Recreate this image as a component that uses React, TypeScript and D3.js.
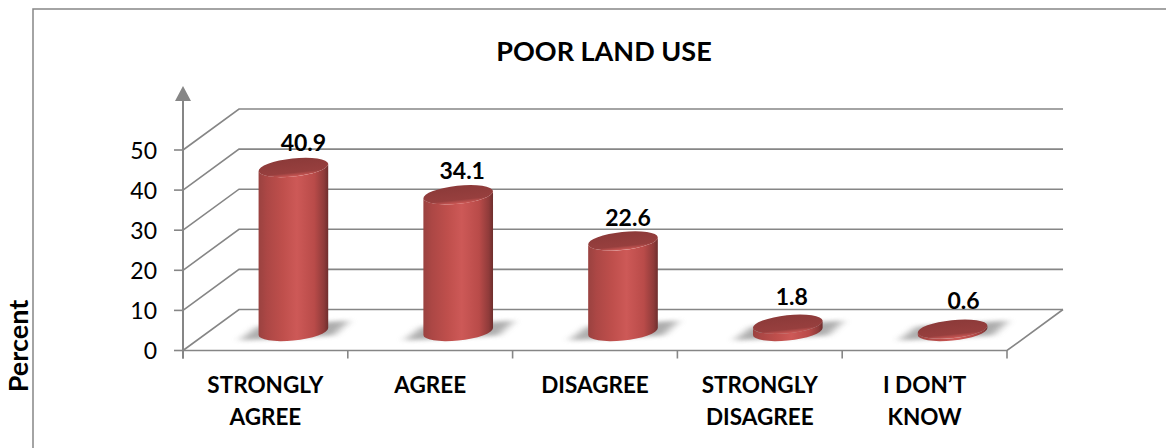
import React from "react";
import * as d3 from "d3";

const categories = [["STRONGLY", "AGREE"], ["AGREE"], ["DISAGREE"], ["STRONGLY", "DISAGREE"], ["I DON’T", "KNOW"]];
const percents = [40.9, 34.1, 22.6, 1.8, 0.6];
const valueLabels = ["40.9", "34.1", "22.6", "1.8", "0.6"];
const yTicks = [0, 10, 20, 30, 40, 50];
const title = "POOR LAND USE";
const yTitle = "Percent";

// Where each value label sits relative to the top of its cylinder.
const labelShiftX = [10, 4, 5, 4, 11];
const labelShiftY = [-16.5, -15.5, -14.5, -19.5, -20.5];

const WIDTH = 1166;
const HEIGHT = 448;
const GREY = "#868686";
const FONT = "Lato, 'Noto Sans', sans-serif";

// Oblique projection of the chart box: depth moves up and to the right.
const DEPTH_X = 56;
const DEPTH_Y = 41;
const LEFT = 183;
const RIGHT = 1007;

const y = d3.scaleLinear().domain([0, 50]).range([350.5, 150]);
const x = d3.scaleBand<number>().domain(d3.range(categories.length)).range([LEFT, RIGHT]);

const RX = 35;
const RY = 9;
const TILT = (-6 * Math.PI) / 180;
const BASE_LIFT = 19;

// Offset from an ellipse centre to the point where its outline runs vertically.
const tangentT = Math.atan2(-RY * Math.sin(TILT), RX * Math.cos(TILT));
const tangentX = RX * Math.cos(tangentT) * Math.cos(TILT) - RY * Math.sin(tangentT) * Math.sin(TILT);
const tangentY = RX * Math.cos(tangentT) * Math.sin(TILT) + RY * Math.sin(tangentT) * Math.cos(TILT);
const tiltDeg = (TILT * 180) / Math.PI;

function cylinderBody(cx: number, base: number, top: number) {
  const lx = cx - tangentX;
  const rx = cx + tangentX;
  return (
    `M${lx},${top - tangentY}L${lx},${base - tangentY}` +
    `A${RX},${RY} ${tiltDeg} 0 0 ${rx},${base + tangentY}` +
    `L${rx},${top + tangentY}` +
    `A${RX},${RY} ${tiltDeg} 0 1 ${lx},${top - tangentY}Z`
  );
}

function floorShadow(cx: number, base: number) {
  const line = d3.line();
  return line([
    [cx - 54, base + 9],
    [cx - 36, base - 5],
    [cx + 56, base - 11],
    [cx + 40, base + 4],
  ]) as string;
}

export default function App() {
  const band = x.bandwidth();
  return (
    <svg
      width={WIDTH}
      height={HEIGHT}
      viewBox={`0 0 ${WIDTH} ${HEIGHT}`}
      style={{ position: "absolute", left: 0, top: 0, background: "#fff" }}
    >
      <defs>
        <linearGradient id="cyl" x1="0" x2="1" y1="0" y2="0">
          <stop offset="0" stopColor="#9a4240" />
          <stop offset="0.12" stopColor="#ac4745" />
          <stop offset="0.35" stopColor="#bf4f4c" />
          <stop offset="0.55" stopColor="#cd5957" />
          <stop offset="0.8" stopColor="#b94b49" />
          <stop offset="0.94" stopColor="#8f3b3a" />
          <stop offset="1" stopColor="#6e2e2d" />
        </linearGradient>
        <linearGradient id="capRim" x1="0" x2="0" y1="0" y2="1">
          <stop offset="0" stopColor="#8c3a39" />
          <stop offset="0.78" stopColor="#973f3e" />
          <stop offset="1" stopColor="#cf5a57" />
        </linearGradient>
        <filter id="soft" x="-40%" y="-80%" width="180%" height="260%">
          <feGaussianBlur stdDeviation="5 2.2" />
        </filter>
      </defs>

      {/* chart frame: left and top edges only */}
      <path d={`M33,${HEIGHT}V9H${WIDTH}`} fill="none" stroke={GREY} strokeWidth={1.5} />

      <text x={604} y={61} textAnchor="middle" fontFamily={FONT} fontWeight={700} fontSize={27} fill="#000">
        {title}
      </text>
      <text
        transform="translate(28,346) rotate(-90)"
        textAnchor="middle"
        fontFamily={FONT}
        fontWeight={700}
        fontSize={27}
        fill="#000"
      >
        {yTitle}
      </text>

      {/* back wall gridlines with their side-wall returns */}
      {yTicks.map((t) => (
        <path
          key={t}
          d={`M${LEFT},${y(t)}L${LEFT + DEPTH_X},${y(t) - DEPTH_Y}H${RIGHT + DEPTH_X}`}
          fill="none"
          stroke={GREY}
          strokeWidth={1.6}
        />
      ))}
      <path
        d={`M${RIGHT + DEPTH_X},${y(0) - DEPTH_Y}L${RIGHT},${y(0)}H${LEFT}`}
        fill="none"
        stroke={GREY}
        strokeWidth={1.6}
      />

      {/* value axis with arrowhead */}
      <line x1={LEFT} x2={LEFT} y1={y(0) + 8} y2={100} stroke={GREY} strokeWidth={2} />
      <path d={`M${LEFT},86L${LEFT + 8},101H${LEFT - 8}Z`} fill={GREY} />
      {yTicks.map((t) => (
        <g key={t}>
          <line x1={LEFT - 9} x2={LEFT} y1={y(t)} y2={y(t)} stroke={GREY} strokeWidth={1.6} />
          <text x={157} y={y(t) + 8.5} textAnchor="end" fontFamily={FONT} fontSize={23} fill="#000">
            {t}
          </text>
        </g>
      ))}

      {/* category ticks and labels */}
      {d3.range(categories.length + 1).map((i) => (
        <line
          key={i}
          x1={LEFT + i * band}
          x2={LEFT + i * band}
          y1={y(0)}
          y2={y(0) + 8}
          stroke={GREY}
          strokeWidth={1.6}
        />
      ))}
      {categories.map((lines, i) => (
        <text key={i} textAnchor="middle" fontFamily={FONT} fontWeight={700} fontSize={22.5} fill="#000">
          {lines.map((l, j) => (
            <tspan key={j} x={(x(i) as number) + band / 2} y={393 + j * 32}>
              {l}
            </tspan>
          ))}
        </text>
      ))}

      {/* floor shadows, then cylinders on top */}
      {percents.map((v, i) => {
        const cx = (x(i) as number) + band / 2 + DEPTH_X / 2;
        const base = y(0) - BASE_LIFT;
        return <path key={i} d={floorShadow(cx, base)} fill="#7a7a7a" opacity={0.62} filter="url(#soft)" />;
      })}
      {percents.map((v, i) => {
        const cx = (x(i) as number) + band / 2 + DEPTH_X / 2;
        const base = y(0) - BASE_LIFT;
        const top = y(v) - BASE_LIFT;
        return (
          <g key={i}>
            <path d={cylinderBody(cx, base, top)} fill="url(#cyl)" />
            <ellipse
              cx={cx}
              cy={top}
              rx={RX}
              ry={RY}
              transform={`rotate(${tiltDeg} ${cx} ${top})`}
              fill="url(#capRim)"
            />
            <text
              x={cx + labelShiftX[i]}
              y={top + labelShiftY[i]}
              textAnchor="middle"
              fontFamily={FONT}
              fontWeight={700}
              fontSize={23}
              fill="#000"
            >
              {valueLabels[i]}
            </text>
          </g>
        );
      })}
    </svg>
  );
}
